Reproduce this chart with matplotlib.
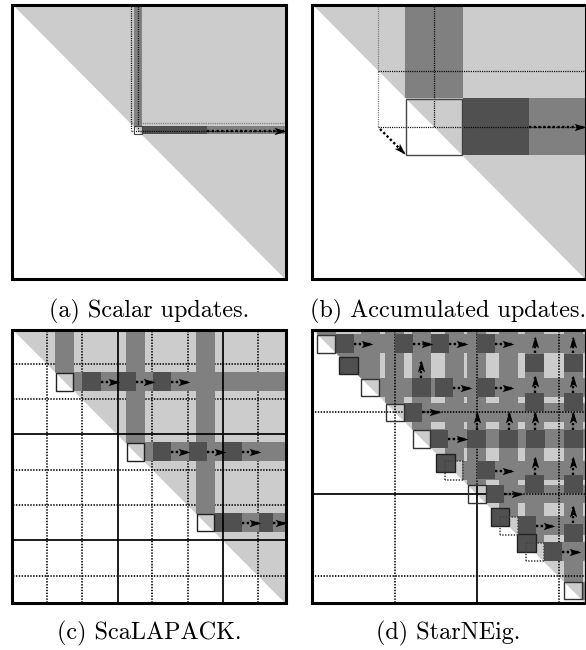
import matplotlib
matplotlib.use('Agg')
import matplotlib.pyplot as plt
from matplotlib.patches import Polygon, Rectangle
from matplotlib.markers import MarkerStyle
from matplotlib.path import Path
from matplotlib.transforms import Affine2D

LIGHT = '#cccccc'
MID = '#808080'
DARK = '#505050'

# all geometry is in pixels of the 586x650 page, y going down
titles = ['(a) Scalar updates.', '(b) Accumulated updates.', '(c) ScaLAPACK.', '(d) StarNEig.']
title_pos = [(149, 317), (448, 317), (149, 639), (448, 639)]
frames = [(12, 286, 5, 279), (312, 586, 5, 279), (12, 286, 330, 603), (312, 586, 330, 603)]

# panel a
a_mid = [(134, 142, 6, 126), (207, 285, 126, 134)]
a_dark = [(142, 207, 126, 134)]
a_boxes = [(134, 142, 126, 134)]
a_dots = [(130.5, 6, 130.5, 130), (138, 6, 138, 130), (130.5, 130.5, 285, 130.5)]
a_gray_dots = [(130.5, 123, 285, 123)]
a_arrows = [(207, 130.5, 284, 130.5)]

# panel b
b_mid = [(405, 463, 6, 98), (529, 585, 98, 155)]
b_dark = [(463, 529, 98, 155)]
b_boxes = [(406, 462, 99, 155)]
b_dots = [(378, 70.5, 585, 70.5), (378, 127, 585, 127), (434, 6, 434, 127)]
b_gray_dots = [(378, 6, 378, 127)]
b_arrows = [(529, 127, 584, 127), (380, 129, 404, 153)]

# panel c
c_thick_x = [117.5, 222.5]
c_thick_y = [434, 540]
c_dot_x = [46.7, 82, 152, 188, 258]
c_dot_y = [364, 399, 470, 505, 576]
c_mid = [(55, 74, 331, 373), (126, 145, 331, 443), (196, 215, 331, 514),
         (74, 285, 372, 391), (145, 285, 442, 461), (215, 285, 513, 532)]
c_dark = [(82, 101, 372, 391), (117, 136, 372, 391), (153, 171, 372, 391),
          (153, 171, 442, 461), (189, 207, 442, 461), (223, 242, 442, 461),
          (215, 242, 513, 532), (259, 273, 513, 532)]
c_boxes = [(56, 73, 373, 391), (127, 144, 443, 461), (197, 214, 514, 531)]
c_arrows = [(101, 381.5, 118, 381.5), (136, 381.5, 153, 381.5), (171, 381.5, 188, 381.5),
            (171, 451.5, 188, 451.5), (207, 451.5, 224, 451.5), (242, 451.5, 259, 451.5),
            (242, 522.5, 259, 522.5), (273, 522.5, 285, 522.5)]

# panel d
d_mid = [(317, 336, 331, 335), (361, 380, 331, 379), (385, 404, 331, 404), (412, 431, 331, 430),
         (445, 464, 331, 461), (467, 486, 331, 485), (499, 518, 331, 517), (525, 544, 331, 543),
         (564, 583, 331, 582), (336, 361, 353, 379),
         (335, 585, 334, 353), (379, 585, 378, 397), (404, 585, 403, 422), (430, 585, 429, 448),
         (462, 585, 461, 480), (486, 585, 485, 503), (518, 585, 516, 535), (544, 585, 542, 561),
         (582, 585, 582, 600)]
d_dark = [(336, 354, 334, 353), (395, 413, 334, 353), (431, 449, 334, 353), (477, 495, 334, 353),
          (525, 544, 354, 372), (564, 583, 354, 372),
          (412, 431, 378, 397), (435, 453, 378, 397), (477, 495, 378, 397),
          (525, 544, 393, 411), (564, 583, 393, 411),
          (404, 422, 403, 422),
          (430, 448, 430, 448), (467, 486, 430, 448), (499, 518, 430, 448),
          (526, 545, 430, 448), (564, 583, 430, 448),
          (477, 495, 461, 479), (525, 544, 475, 493), (564, 583, 475, 493),
          (486, 504, 485, 503), (518, 536, 516, 534), (564, 583, 524, 542),
          (544, 562, 542, 561)]
d_dark_boxes = [(339, 358, 357, 374), (436, 455, 454, 472), (491, 509, 508, 526), (517, 536, 534, 552)]
d_boxes = [(317, 335, 335, 353), (361, 379, 379, 396), (386, 404, 404, 421), (413, 430, 430, 448),
           (468, 486, 485, 503), (564, 582, 582, 599)]
d_dot_boxes = [(445, 463, 461, 480), (500, 518, 517, 535), (526, 544, 543, 561)]
d_thick = [(477, 485, 477, 603), (312, 494, 486, 494)]
d_dots = [(394.7, 331, 394.7, 603), (558.7, 331, 558.7, 603), (477, 331, 477, 485),
          (312, 412, 585, 412), (486, 494, 585, 494), (312, 576, 585, 576)]
d_arrows = [(354, 344, 371, 344), (413, 344, 431, 344), (449, 344, 466, 344), (495, 344, 512, 344),
            (453, 388, 470, 388), (495, 388, 512, 388), (422, 412, 439, 412), (448, 439, 466, 439),
            (495, 471, 512, 471), (504, 494, 521, 494), (536, 526, 553, 526), (562, 552, 579, 552),
            (535, 353, 535, 338), (573, 353, 573, 338), (421, 378, 421, 362),
            (535, 393, 535, 377), (573, 393, 573, 377),
            (477, 430, 477, 413), (509, 430, 509, 413), (535, 430, 535, 413), (573, 430, 573, 413),
            (535, 475, 535, 458), (573, 475, 573, 458), (573, 523, 573, 507)]

head = Path([(-1, -0.62), (1, 0), (-1, 0.62), (-0.55, 0), (-1, -0.62)],
            [Path.MOVETO, Path.LINETO, Path.LINETO, Path.LINETO, Path.CLOSEPOLY])

fig = plt.figure(figsize=(5.86, 6.5), dpi=100)
ax = fig.add_axes([0, 0, 1, 1])
ax.set_xlim(0, 586)
ax.set_ylim(650, 0)
ax.axis('off')


def triangle(frame):
    x0, x1, y0, y1 = frame
    tri = Polygon([(x0 + 2, y0 + 1), (x1 - 1, y0 + 1), (x1 - 1, y1)], closed=True,
                  facecolor=LIGHT, edgecolor='none', zorder=1)
    ax.add_patch(tri)
    return tri


def rects(items, color, z, clip=None):
    for x0, x1, y0, y1 in items:
        r = Rectangle((x0, y0), x1 - x0, y1 - y0, facecolor=color, edgecolor='none', zorder=z)
        ax.add_patch(r)
        if clip is not None:
            r.set_clip_path(clip)


def boxes(items, face='none', edge='#333333', lw=1.0, z=6):
    for x0, x1, y0, y1 in items:
        ax.add_patch(Rectangle((x0, y0), x1 - x0, y1 - y0, facecolor=face, edgecolor=edge,
                               linewidth=lw, zorder=z))


def lines(items, color='black', lw=1.15, dotted=True, z=4):
    for x0, y0, x1, y1 in items:
        ls = (0, (0.9, 0.9)) if dotted else '-'
        ax.plot([x0, x1], [y0, y1], color=color, lw=lw, ls=ls, zorder=z,
                solid_capstyle='butt', dash_capstyle='butt')


def arrows(items, size=8.5):
    for x0, y0, x1, y1 in items:
        ax.plot([x0, x1], [y0, y1], color='black', lw=1.7, ls=(0, (1, 1)), zorder=7,
                dash_capstyle='butt')
        # display y goes up, page y goes down
        deg = 0
        if x1 == x0:
            deg = 90
        elif y1 != y0:
            deg = -45
        marker = MarkerStyle(head, transform=Affine2D().rotate_deg(deg))
        dx = (x1 > x0) * 4 - 0
        dy = (y1 < y0) * -4 + (y1 > y0) * 4
        if y1 != y0 and x1 != x0:
            dx, dy = 3, 3
        ax.plot([x1 - dx], [y1 - dy], marker=marker, ms=size, color='black', mew=0, ls='none', zorder=8)


# panel a
triangle(frames[0])
rects(a_mid, MID, 2)
rects(a_dark, DARK, 3)
lines(a_gray_dots, color='#777777', lw=0.9)
lines(a_dots, lw=0.9)
boxes(a_boxes, face='none', edge='#444444', lw=0.8)
arrows(a_arrows)

# panel b
tri = triangle(frames[1])
rects(b_mid, MID, 2)
rects(b_dark, DARK, 3)
lines(b_gray_dots, color='#777777', lw=0.9)
lines(b_dots, lw=0.9)
boxes(b_boxes, edge='#444444', lw=1.0)
arrows(b_arrows)

# panel c
tri = triangle(frames[2])
for x in c_dot_x:
    lines([(x, 331, x, 603)], z=1.5)
for y in c_dot_y:
    lines([(13, y, 285, y)], z=1.5)
rects(c_mid, MID, 2, clip=tri)
rects(c_dark, DARK, 3)
for x in c_thick_x:
    lines([(x, 331, x, 603)], lw=1.25, dotted=False)
for y in c_thick_y:
    lines([(13, y, 285, y)], lw=1.25, dotted=False)
boxes(c_boxes, edge='#222222', lw=1.0)
arrows(c_arrows)

# panel d
tri = triangle(frames[3])
rects(d_mid, MID, 2, clip=tri)
lines(d_dots, z=2.5)
lines(d_thick, lw=1.25, dotted=False, z=2.5)
rects(d_dark, DARK, 3)
boxes(d_dark_boxes, face=DARK, edge='#222222', lw=1.0, z=3.5)
boxes(d_boxes, edge='#333333', lw=1.0)
for x0, x1, y0, y1 in d_dot_boxes:
    lines([(x0, y0, x1, y0), (x1, y0, x1, y1), (x1, y1, x0, y1), (x0, y1, x0, y0)], color='#444444', z=6)
arrows(d_arrows)

for x0, x1, y0, y1 in frames:
    ax.add_patch(Rectangle((x0, y0), x1 - x0, y1 - y0, facecolor='none', edgecolor='black',
                           linewidth=2.2, zorder=9, clip_on=False))

for txt, (x, y) in zip(titles, title_pos):
    ax.text(x, y, txt, family='cmr10', fontsize=17.4, ha='center', va='baseline', color='black')

fig.savefig('out.png', dpi=100, facecolor='white')
